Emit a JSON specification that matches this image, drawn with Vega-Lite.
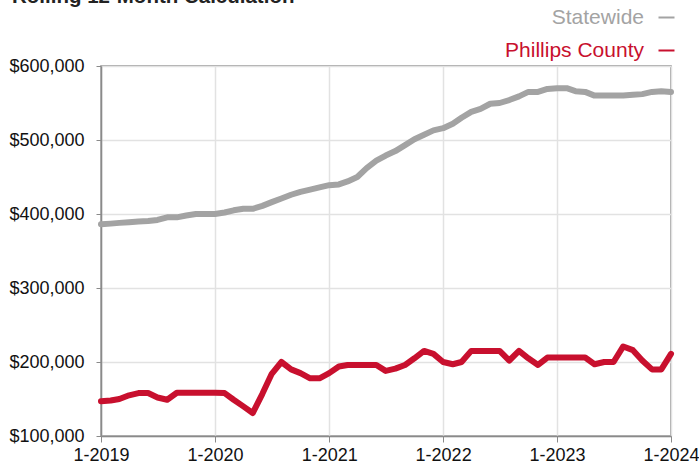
{
  "$schema": "https://vega.github.io/schema/vega-lite/v6.json",
  "width": 570,
  "height": 370,
  "autosize": "none",
  "padding": {"left": 101, "top": 66, "right": 28, "bottom": 30},
  "background": "white",
  "title": {
    "text": "Rolling 12-Month Calculation",
    "anchor": "start",
    "frame": "group",
    "dx": -89,
    "dy": 20,
    "offset": 4,
    "baseline": "alphabetic",
    "font": "Liberation Sans",
    "fontSize": 20.5,
    "fontWeight": "bold",
    "color": "#222222"
  },
  "config": {
    "font": "Liberation Sans",
    "view": {"stroke": "#8a8a8a", "strokeWidth": 1.5}
  },
  "data": {
    "values": [
      {"date": "2019-01-01", "series": "Statewide", "value": 386000},
      {"date": "2019-02-01", "series": "Statewide", "value": 387000},
      {"date": "2019-03-01", "series": "Statewide", "value": 388000},
      {"date": "2019-04-01", "series": "Statewide", "value": 389000},
      {"date": "2019-05-01", "series": "Statewide", "value": 390000},
      {"date": "2019-06-01", "series": "Statewide", "value": 390500},
      {"date": "2019-07-01", "series": "Statewide", "value": 392000},
      {"date": "2019-08-01", "series": "Statewide", "value": 395500},
      {"date": "2019-09-01", "series": "Statewide", "value": 395500},
      {"date": "2019-10-01", "series": "Statewide", "value": 398000},
      {"date": "2019-11-01", "series": "Statewide", "value": 400000},
      {"date": "2019-12-01", "series": "Statewide", "value": 400000},
      {"date": "2020-01-01", "series": "Statewide", "value": 400000},
      {"date": "2020-02-01", "series": "Statewide", "value": 402000},
      {"date": "2020-03-01", "series": "Statewide", "value": 405000},
      {"date": "2020-04-01", "series": "Statewide", "value": 407000},
      {"date": "2020-05-01", "series": "Statewide", "value": 407000},
      {"date": "2020-06-01", "series": "Statewide", "value": 411000},
      {"date": "2020-07-01", "series": "Statewide", "value": 416000},
      {"date": "2020-08-01", "series": "Statewide", "value": 421000},
      {"date": "2020-09-01", "series": "Statewide", "value": 426000},
      {"date": "2020-10-01", "series": "Statewide", "value": 430000},
      {"date": "2020-11-01", "series": "Statewide", "value": 433000},
      {"date": "2020-12-01", "series": "Statewide", "value": 436000},
      {"date": "2021-01-01", "series": "Statewide", "value": 439000},
      {"date": "2021-02-01", "series": "Statewide", "value": 440000},
      {"date": "2021-03-01", "series": "Statewide", "value": 444000},
      {"date": "2021-04-01", "series": "Statewide", "value": 450000},
      {"date": "2021-05-01", "series": "Statewide", "value": 462000},
      {"date": "2021-06-01", "series": "Statewide", "value": 472000},
      {"date": "2021-07-01", "series": "Statewide", "value": 479000},
      {"date": "2021-08-01", "series": "Statewide", "value": 485000},
      {"date": "2021-09-01", "series": "Statewide", "value": 493000},
      {"date": "2021-10-01", "series": "Statewide", "value": 501000},
      {"date": "2021-11-01", "series": "Statewide", "value": 507000},
      {"date": "2021-12-01", "series": "Statewide", "value": 513000},
      {"date": "2022-01-01", "series": "Statewide", "value": 516000},
      {"date": "2022-02-01", "series": "Statewide", "value": 522000},
      {"date": "2022-03-01", "series": "Statewide", "value": 530000},
      {"date": "2022-04-01", "series": "Statewide", "value": 538000},
      {"date": "2022-05-01", "series": "Statewide", "value": 542000},
      {"date": "2022-06-01", "series": "Statewide", "value": 549000},
      {"date": "2022-07-01", "series": "Statewide", "value": 550000},
      {"date": "2022-08-01", "series": "Statewide", "value": 554000},
      {"date": "2022-09-01", "series": "Statewide", "value": 559000},
      {"date": "2022-10-01", "series": "Statewide", "value": 565000},
      {"date": "2022-11-01", "series": "Statewide", "value": 565000},
      {"date": "2022-12-01", "series": "Statewide", "value": 569000},
      {"date": "2023-01-01", "series": "Statewide", "value": 570000},
      {"date": "2023-02-01", "series": "Statewide", "value": 570000},
      {"date": "2023-03-01", "series": "Statewide", "value": 566000},
      {"date": "2023-04-01", "series": "Statewide", "value": 565000},
      {"date": "2023-05-01", "series": "Statewide", "value": 560000},
      {"date": "2023-06-01", "series": "Statewide", "value": 560000},
      {"date": "2023-07-01", "series": "Statewide", "value": 560000},
      {"date": "2023-08-01", "series": "Statewide", "value": 560000},
      {"date": "2023-09-01", "series": "Statewide", "value": 561000},
      {"date": "2023-10-01", "series": "Statewide", "value": 562000},
      {"date": "2023-11-01", "series": "Statewide", "value": 565000},
      {"date": "2023-12-01", "series": "Statewide", "value": 566000},
      {"date": "2024-01-01", "series": "Statewide", "value": 565000},
      {"date": "2019-01-01", "series": "Phillips County", "value": 147000},
      {"date": "2019-02-01", "series": "Phillips County", "value": 148000},
      {"date": "2019-03-01", "series": "Phillips County", "value": 150000},
      {"date": "2019-04-01", "series": "Phillips County", "value": 155000},
      {"date": "2019-05-01", "series": "Phillips County", "value": 158000},
      {"date": "2019-06-01", "series": "Phillips County", "value": 158000},
      {"date": "2019-07-01", "series": "Phillips County", "value": 152000},
      {"date": "2019-08-01", "series": "Phillips County", "value": 149000},
      {"date": "2019-09-01", "series": "Phillips County", "value": 158500},
      {"date": "2019-10-01", "series": "Phillips County", "value": 158500},
      {"date": "2019-11-01", "series": "Phillips County", "value": 158500},
      {"date": "2019-12-01", "series": "Phillips County", "value": 158500},
      {"date": "2020-01-01", "series": "Phillips County", "value": 158500},
      {"date": "2020-02-01", "series": "Phillips County", "value": 158000},
      {"date": "2020-03-01", "series": "Phillips County", "value": 149000},
      {"date": "2020-04-01", "series": "Phillips County", "value": 140000},
      {"date": "2020-05-01", "series": "Phillips County", "value": 131000},
      {"date": "2020-06-01", "series": "Phillips County", "value": 157000},
      {"date": "2020-07-01", "series": "Phillips County", "value": 184000},
      {"date": "2020-08-01", "series": "Phillips County", "value": 200000},
      {"date": "2020-09-01", "series": "Phillips County", "value": 190000},
      {"date": "2020-10-01", "series": "Phillips County", "value": 185000},
      {"date": "2020-11-01", "series": "Phillips County", "value": 178000},
      {"date": "2020-12-01", "series": "Phillips County", "value": 178000},
      {"date": "2021-01-01", "series": "Phillips County", "value": 185000},
      {"date": "2021-02-01", "series": "Phillips County", "value": 194000},
      {"date": "2021-03-01", "series": "Phillips County", "value": 196000},
      {"date": "2021-04-01", "series": "Phillips County", "value": 196000},
      {"date": "2021-05-01", "series": "Phillips County", "value": 196000},
      {"date": "2021-06-01", "series": "Phillips County", "value": 196000},
      {"date": "2021-07-01", "series": "Phillips County", "value": 188000},
      {"date": "2021-08-01", "series": "Phillips County", "value": 191000},
      {"date": "2021-09-01", "series": "Phillips County", "value": 196000},
      {"date": "2021-10-01", "series": "Phillips County", "value": 205000},
      {"date": "2021-11-01", "series": "Phillips County", "value": 215000},
      {"date": "2021-12-01", "series": "Phillips County", "value": 211000},
      {"date": "2022-01-01", "series": "Phillips County", "value": 200000},
      {"date": "2022-02-01", "series": "Phillips County", "value": 197000},
      {"date": "2022-03-01", "series": "Phillips County", "value": 200000},
      {"date": "2022-04-01", "series": "Phillips County", "value": 215000},
      {"date": "2022-05-01", "series": "Phillips County", "value": 215000},
      {"date": "2022-06-01", "series": "Phillips County", "value": 215000},
      {"date": "2022-07-01", "series": "Phillips County", "value": 215000},
      {"date": "2022-08-01", "series": "Phillips County", "value": 202000},
      {"date": "2022-09-01", "series": "Phillips County", "value": 215000},
      {"date": "2022-10-01", "series": "Phillips County", "value": 205000},
      {"date": "2022-11-01", "series": "Phillips County", "value": 196000},
      {"date": "2022-12-01", "series": "Phillips County", "value": 206000},
      {"date": "2023-01-01", "series": "Phillips County", "value": 206000},
      {"date": "2023-02-01", "series": "Phillips County", "value": 206000},
      {"date": "2023-03-01", "series": "Phillips County", "value": 206000},
      {"date": "2023-04-01", "series": "Phillips County", "value": 206000},
      {"date": "2023-05-01", "series": "Phillips County", "value": 197000},
      {"date": "2023-06-01", "series": "Phillips County", "value": 200000},
      {"date": "2023-07-01", "series": "Phillips County", "value": 200000},
      {"date": "2023-08-01", "series": "Phillips County", "value": 221000},
      {"date": "2023-09-01", "series": "Phillips County", "value": 216000},
      {"date": "2023-10-01", "series": "Phillips County", "value": 202000},
      {"date": "2023-11-01", "series": "Phillips County", "value": 190000},
      {"date": "2023-12-01", "series": "Phillips County", "value": 190000},
      {"date": "2024-01-01", "series": "Phillips County", "value": 211000}
    ]
  },
  "mark": {"type": "line", "strokeWidth": 6, "strokeJoin": "round", "strokeCap": "round"},
  "encoding": {
    "x": {
      "field": "date",
      "type": "temporal",
      "scale": {"type": "utc", "domain": [{"year": 2019, "month": 1, "date": 1, "utc": true}, {"year": 2024, "month": 1, "date": 1, "utc": true}], "nice": false},
      "axis": {
        "title": null,
        "tickCount": {"interval": "year", "step": 1},
        "labelExpr": "'1-' + utcFormat(datum.value, '%Y')",
        "labelFontSize": 18,
        "labelColor": "#111111",
        "labelPadding": 4,
        "labelFlush": false,
        "labelOverlap": false,
        "domainColor": "#8a8a8a",
        "domainWidth": 1.5,
        "tickColor": "#8a8a8a",
        "tickSize": 6,
        "tickWidth": 1,
        "gridColor": "#e2e2e2",
        "gridWidth": 1.5
      }
    },
    "y": {
      "field": "value",
      "type": "quantitative",
      "scale": {"domain": [100000, 600000], "nice": false, "zero": false},
      "axis": {
        "title": null,
        "values": [100000, 200000, 300000, 400000, 500000, 600000],
        "format": "$,.0f",
        "labelFontSize": 18,
        "labelColor": "#111111",
        "labelPadding": 12,
        "domainColor": "#8a8a8a",
        "domainWidth": 1.5,
        "tickColor": "#8a8a8a",
        "tickSize": 5,
        "tickWidth": 1,
        "gridColor": "#e2e2e2",
        "gridWidth": 1.5
      }
    },
    "color": {
      "field": "series",
      "type": "nominal",
      "scale": {"domain": ["Statewide", "Phillips County"], "range": ["#a3a3a3", "#c8102e"]},
      "legend": {
        "title": null,
        "orient": "none",
        "legendX": 555,
        "legendY": -59,
        "padding": 0,
        "symbolType": "stroke",
        "symbolSize": 256,
        "symbolStrokeWidth": 2,
        "labelFontSize": 21,
        "labelAlign": "right",
        "labelOffset": -33,
        "labelLimit": 400,
        "rowPadding": 11,
        "encode": {
          "labels": {"update": {"fill": {"scale": "color", "field": "value"}}}
        }
      }
    }
  }
}
